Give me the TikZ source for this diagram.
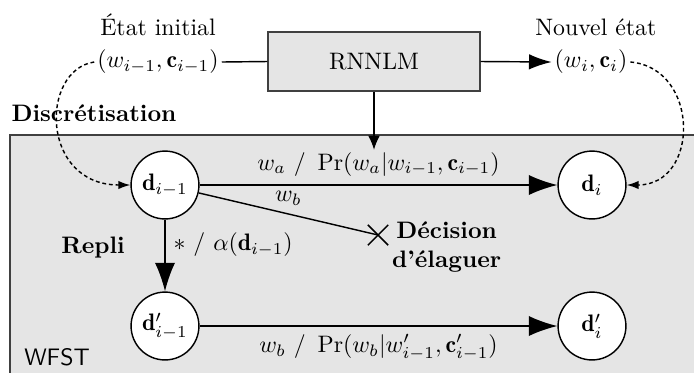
\documentclass[tikz,border=0pt]{standalone}
\usepackage{fontspec}
\usetikzlibrary{arrows.meta,positioning,shapes.misc}

\tikzset{
    state/.style={circle, draw, fill=white, minimum size=28.5pt, inner sep=0pt},
    bigarrow/.style={-{Latex[length=12pt,width=8.5pt]}},
    discarrow/.style={dash pattern=on 1.6pt off 1.2pt, -{Latex[length=5pt,width=3.5pt]}},
    tuple/.style={inner sep=1pt},
    strong/.style={font=\bfseries},
}

\begin{document}
\begin{tikzpicture}[x=0.42pt,y=-0.42pt,semithick]
                    \clip (0,0) rectangle (694,372);
                    \fill[black!10] (10,135) rectangle (720,400);
                    \draw[black!75] (720,135) -- (10,135) -- (10,400);

                    \node[draw=black!75, fill=black!10, minimum width=89pt, minimum height=24.8pt] (rnn) at (374,61.5) {RNNLM};
                    \node[tuple] (s0) at (158,62) {$(w_{i-1},\mathbf{c}_{i-1})$};
                    \node[above=1pt of s0] (s0title) {État initial};
                    \node[tuple] (s1) at (591,62) {$(w_{i},\mathbf{c}_{i})$};
                    \node[above=1pt of s1, xshift=2pt] (s1title) {Nouvel état};

                    \draw (s0.east) -- (rnn.west);
                    \draw[-{Latex[length=9.5pt,width=6.5pt]}] (rnn.east) -- (s1.west);

                    \node[strong] (disc) at (94,113) {Discrétisation};

                    \node[state] (d1) at (165,185) {$\mathbf{d}_{i-1}$};
                    \node[state] (d2) at (592,185) {$\mathbf{d}_{i}$};
                    \node[state] (p1) at (165,326) {$\mathbf{d}'_{i-1}$};
                    \node[state] (p2) at (592,326) {$\mathbf{d}'_{i}$};

                    \draw[bigarrow] (d1) -- node[above] (pa) {$w_a~/~\Pr(w_a|w_{i-1},\mathbf{c}_{i-1})$} (d2);
                    \draw[bigarrow] (d1) -- node[right, pos=0.35] (alpha) {$*~/~\alpha(\mathbf{d}_{i-1})$} (p1);
                    \draw[bigarrow] (p1) -- node[below] (pb) {$w_b~/~\Pr(w_b|w'_{i-1},\mathbf{c}'_{i-1})$} (p2);

                    \node[draw, cross out, minimum size=8pt, inner sep=0pt] (cut) at (378,235) {};
                    \draw (d1) -- node[above] (wb) {$w_b$} (cut.center);
                    \node[strong, align=center, right=-2pt of cut, yshift=-5pt] (prune) {Décision\\d'élaguer};

                    \node[strong] (repli) at (93,248) {Repli};
                    \node[font=\sffamily] (wfst) at (57,357) {WFST};

                    \draw[-{Latex[length=6pt,width=5pt]}, shorten >=-2.5pt] (rnn.south) -- (rnn.south |- pa.north);

                    \draw[discarrow] (s0.west) .. controls (40,70) and (40,185) .. (d1.west);
                    \draw[discarrow] (s1.east) .. controls (700,68) and (700,185) .. (d2.east);
                \end{tikzpicture}
\end{document}
